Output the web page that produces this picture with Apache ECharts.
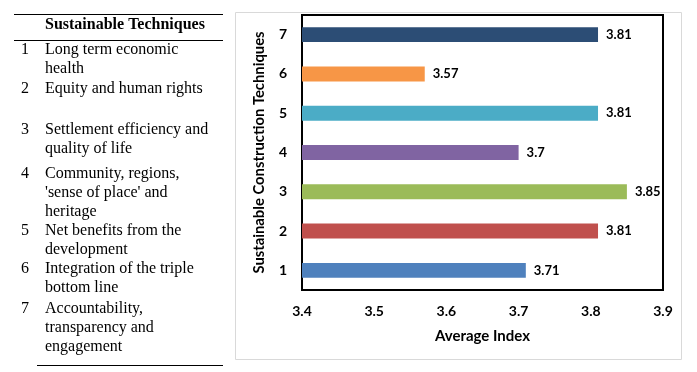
<!DOCTYPE html>
<html>
<head>
<meta charset="utf-8">
<script src="https://cdn.jsdelivr.net/npm/echarts@6/dist/echarts.min.js"></script>
<style>
  html, body { margin: 0; padding: 0; background: #fff; }
  #chart { width: 697px; height: 372px; }
</style>
</head>
<body>
<div id="chart"></div>
<script>
// chart data
const categories = ['1', '2', '3', '4', '5', '6', '7'];
const averageIndex = [3.71, 3.81, 3.85, 3.7, 3.81, 3.57, 3.81];
const xTicks = [3.4, 3.5, 3.6, 3.7, 3.8, 3.9];

// legend table (left side)
const techniqueNames = [
  ['Long term economic', 'health'],
  ['Equity and human rights'],
  ['Settlement efficiency and', 'quality of life'],
  ['Community, regions,', '\'sense of place\' and', 'heritage'],
  ['Net benefits from the', 'development'],
  ['Integration of the triple', 'bottom line'],
  ['Accountability,', 'transparency and', 'engagement'],
];

// styles / layout
const barColors = ['#4F81BD', '#C0504D', '#9BBB59', '#8064A2', '#4BACC6', '#F79646', '#2C4D75'];
const rowTops = [50, 89, 130, 174, 231, 269, 309];
const lineGap = 18.8;
const serif = '"Liberation Serif", "Times New Roman", serif';
const sans = 'Lato, "Open Sans", sans-serif';

const tableGraphics = [
  { type: 'line', shape: { x1: 14, y1: 14.5, x2: 223, y2: 14.5 }, style: { stroke: '#000', lineWidth: 1 } },
  { type: 'line', shape: { x1: 14, y1: 40.5, x2: 223, y2: 40.5 }, style: { stroke: '#000', lineWidth: 1 } },
  { type: 'line', shape: { x1: 37, y1: 365.5, x2: 223, y2: 365.5 }, style: { stroke: '#000', lineWidth: 1 } },
  {
    type: 'text', x: 45, y: 25,
    style: { text: 'Sustainable Techniques', font: 'bold 16px ' + serif, fill: '#000', verticalAlign: 'middle' },
  },
  // outer chart frame
  {
    type: 'rect', shape: { x: 235.5, y: 12.5, width: 446, height: 347 },
    style: { fill: 'none', stroke: '#d9d9d9', lineWidth: 1 },
  },
];

techniqueNames.forEach((lines, i) => {
  tableGraphics.push({
    type: 'text', x: 25, y: rowTops[i], style: {
      text: categories[i], font: '16px ' + serif, fill: '#000', align: 'center', verticalAlign: 'middle',
    },
  });
  lines.forEach((line, j) => {
    tableGraphics.push({
      type: 'text', x: 45, y: rowTops[i] + j * lineGap, style: {
        text: line, font: '16px ' + serif, fill: '#000', verticalAlign: 'middle',
      },
    });
  });
});

const chart = echarts.init(document.getElementById('chart'));

chart.setOption({
  animation: false,
  grid: {
    left: 302,
    right: 34,
    top: 15,
    bottom: 82,
    show: true,
    borderColor: '#000',
    borderWidth: 2,
    backgroundColor: 'transparent',
  },
  xAxis: {
    type: 'value',
    min: xTicks[0],
    max: xTicks[xTicks.length - 1],
    interval: 0.1,
    name: 'Average Index',
    nameLocation: 'middle',
    nameGap: 39,
    nameTextStyle: { fontFamily: sans, fontWeight: 'bold', fontSize: 15, color: '#000' },
    axisLine: { show: false },
    axisTick: { show: false },
    splitLine: { show: false },
    axisLabel: {
      margin: 14,
      fontFamily: sans,
      fontWeight: 'bold',
      fontSize: 14,
      color: '#000',
      formatter: (v) => String(Math.round(v * 10) / 10),
    },
  },
  yAxis: {
    type: 'category',
    data: categories,
    name: 'Sustainable Construction Techniques',
    nameLocation: 'middle',
    nameGap: 35,
    nameTextStyle: { fontFamily: sans, fontWeight: 'bold', fontSize: 14.8, color: '#000' },
    axisLine: { show: false },
    axisTick: { show: false },
    axisLabel: {
      margin: 15,
      fontFamily: sans,
      fontWeight: 'bold',
      fontSize: 14,
      color: '#000',
    },
  },
  series: [
    {
      type: 'bar',
      barWidth: '38%',
      data: averageIndex.map((v, i) => ({ value: v, itemStyle: { color: barColors[i] } })),
      label: {
        show: true,
        position: 'right',
        distance: 8,
        fontFamily: sans,
        fontWeight: 'bold',
        fontSize: 13,
        color: '#000',
      },
    },
  ],
  graphic: tableGraphics,
});

window.addEventListener('resize', () => chart.resize());
</script>
</body>
</html>
